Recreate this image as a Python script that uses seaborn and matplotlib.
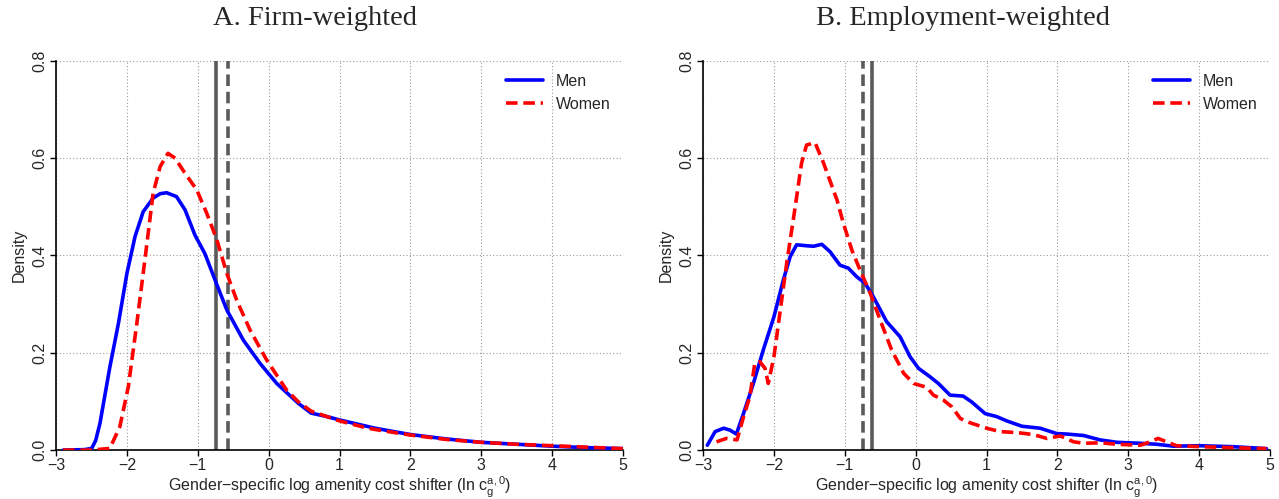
import numpy as np
import pandas as pd
import matplotlib
matplotlib.use("Agg")
import matplotlib.pyplot as plt
import seaborn as sns

# ---------------------------------------------------------
# Data
# ---------------------------------------------------------
firm_men_x = [-2.9, -2.6, -2.496, -2.44, -2.38, -2.24, -2.12, -2.0, -1.885, -1.77, -1.63,
              -1.53, -1.44, -1.30, -1.18, -1.04, -0.90, -0.757, -0.59, -0.357, -0.12,
              0.114, 0.42, 0.6, 0.82, 1.0, 1.5, 2.0, 2.5, 3.0, 3.5, 4.0, 4.5, 5.0]
firm_men_y = [0.0, 0.001, 0.0035, 0.02, 0.055, 0.171, 0.26, 0.363, 0.439, 0.49, 0.518,
              0.527, 0.529, 0.521, 0.494, 0.442, 0.404, 0.35, 0.288, 0.226, 0.178,
              0.137, 0.096, 0.076, 0.069, 0.062, 0.045, 0.032, 0.023, 0.016, 0.012, 0.008, 0.005, 0.003]

firm_women_x = [-2.9, -2.5, -2.24, -2.10, -1.98, -1.86, -1.74, -1.63, -1.53, -1.42, -1.32,
                -1.18, -1.015, -0.874, -0.73, -0.59, -0.45, -0.263, -0.027, 0.255, 0.42,
                0.6, 0.82, 1.0, 1.4, 1.6, 2.0, 2.5, 3.0, 3.5, 4.0, 4.5, 5.0]
firm_women_y = [0.0, 0.0, 0.0035, 0.048, 0.13, 0.26, 0.398, 0.528, 0.583, 0.61, 0.60,
                0.569, 0.535, 0.487, 0.432, 0.363, 0.308, 0.247, 0.185, 0.123, 0.099,
                0.080, 0.069, 0.06, 0.045, 0.040, 0.031, 0.022, 0.016, 0.012, 0.009, 0.006, 0.003]

emp_men_x = [-2.94, -2.83, -2.71, -2.62, -2.53, -2.43, -2.29, -2.15, -2.0, -1.867, -1.77,
             -1.68, -1.54, -1.44, -1.325, -1.21, -1.067, -0.95, -0.83, -0.714, -0.597,
             -0.41, -0.22, -0.08, 0.04, 0.20, 0.32, 0.485, 0.67, 0.79, 0.98, 1.14, 1.285,
             1.50, 1.755, 1.99, 2.13, 2.37, 2.60, 2.84, 3.17, 3.40, 3.64, 4.01, 4.48, 4.95]
emp_men_y = [0.010, 0.038, 0.045, 0.041, 0.033, 0.075, 0.137, 0.206, 0.274, 0.35, 0.398,
             0.422, 0.42, 0.419, 0.423, 0.408, 0.380, 0.374, 0.356, 0.343, 0.315,
             0.264, 0.233, 0.192, 0.168, 0.151, 0.137, 0.113, 0.111, 0.099, 0.075, 0.069, 0.060,
             0.049, 0.045, 0.034, 0.033, 0.030, 0.021, 0.016, 0.014, 0.012, 0.008, 0.009, 0.007, 0.003]

emp_women_x = [-2.81, -2.67, -2.52, -2.43, -2.34, -2.27, -2.20, -2.125, -2.08, -2.0, -1.91,
               -1.82, -1.70, -1.61, -1.54, -1.42, -1.30, -1.23, -1.11, -1.02, -0.90, -0.785,
               -0.64, -0.50, -0.34, -0.17, -0.03, 0.156, 0.25, 0.39, 0.51, 0.63, 0.77, 1.0,
               1.19, 1.43, 1.66, 1.85, 2.04, 2.23, 2.37, 2.60, 2.84, 3.17, 3.31, 3.42, 3.54,
               3.68, 4.01, 4.48, 4.95]
emp_women_y = [0.017, 0.024, 0.021, 0.068, 0.11, 0.178, 0.182, 0.168, 0.137, 0.192, 0.288,
               0.384, 0.50, 0.59, 0.627, 0.632, 0.59, 0.562, 0.514, 0.466, 0.411, 0.37,
               0.322, 0.267, 0.206, 0.158, 0.137, 0.129, 0.113, 0.103, 0.089, 0.065, 0.056, 0.045,
               0.038, 0.036, 0.032, 0.024, 0.029, 0.017, 0.014, 0.015, 0.012, 0.010, 0.017, 0.024, 0.017,
               0.009, 0.007, 0.005, 0.003]

# mean lines: (solid position, dashed position)
firm_means = (-0.746, -0.58)
emp_means = (-0.62, -0.74)

titles = ["A. Firm-weighted", "B. Employment-weighted"]
x_ticks = [-3, -2, -1, 0, 1, 2, 3, 4, 5]
y_ticks = [0.0, 0.2, 0.4, 0.6, 0.8]

# ---------------------------------------------------------
# Style
# ---------------------------------------------------------
sns.set_style("white")
plt.rcParams["font.family"] = ["Liberation Sans", "DejaVu Sans"]
plt.rcParams["mathtext.fontset"] = "custom"
plt.rcParams["mathtext.rm"] = "Liberation Sans"
plt.rcParams["mathtext.it"] = "Liberation Sans"
plt.rcParams["axes.unicode_minus"] = True

fig = plt.figure(figsize=(12.79, 4.99), dpi=100)
ax_a = fig.add_axes([0.0438, 0.098, 0.4433, 0.780])
ax_b = fig.add_axes([0.5497, 0.098, 0.4433, 0.780])

panels = [
    (ax_a, firm_men_x, firm_men_y, firm_women_x, firm_women_y, firm_means),
    (ax_b, emp_men_x, emp_men_y, emp_women_x, emp_women_y, emp_means),
]
title_x = [315 / 1279, 963 / 1279]

for i, (ax, mx, my, wx, wy, means) in enumerate(panels):
    # dotted grid
    for xv in x_ticks:
        ax.axvline(xv, color="#9a9a9a", linestyle=(0, (1, 2)), linewidth=0.8, zorder=0)
    for yv in y_ticks:
        ax.axhline(yv, color="#9a9a9a", linestyle=(0, (1, 2)), linewidth=0.8, zorder=0)

    # mean lines
    ax.axvline(means[0], color="#5a5a5a", linewidth=2.6, zorder=1)
    ax.axvline(means[1], color="#5a5a5a", linewidth=2.6, linestyle=(0, (3.2, 1.6)), zorder=1)

    sns.lineplot(x=mx, y=my, ax=ax, color="#0000ff", linewidth=2.6, label="Men",
                 sort=False, zorder=3)
    sns.lineplot(x=wx, y=wy, ax=ax, color="#ff0000", linewidth=2.6, label="Women",
                 sort=False, zorder=4)
    ax.lines[-1].set_linestyle((0, (3.2, 1.6)))

    ax.set_xlim(-3, 5)
    ax.set_ylim(0, 0.8)
    ax.set_xticks(x_ticks)
    ax.set_yticks(y_ticks)
    ax.set_yticklabels([f"{v:.1f}" for v in y_ticks], rotation=90, va="center")
    ax.tick_params(axis="both", labelsize=11.5, length=4, width=1, direction="out",
                   color="black", bottom=True, left=True, pad=2)

    for side in ["top", "right"]:
        ax.spines[side].set_visible(False)
    for side in ["left", "bottom"]:
        ax.spines[side].set_color("black")
        ax.spines[side].set_linewidth(1.2)

    ax.set_xlabel("Gender\u2212specific log amenity cost shifter (ln c$_g^{a,0}$)",
                  fontsize=11.5, labelpad=1)
    ax.set_ylabel("Density", fontsize=11.5, labelpad=4)
    fig.text(title_x[i], 1 - 25 / 499, titles[i], fontsize=20.5, family="Liberation Serif",
             ha="center", va="baseline")

    ax.legend(loc="upper right", frameon=False, fontsize=11.5,
              handlelength=2.3, borderaxespad=0.4, labelspacing=0.5)

fig.savefig("out.png", dpi=100)
